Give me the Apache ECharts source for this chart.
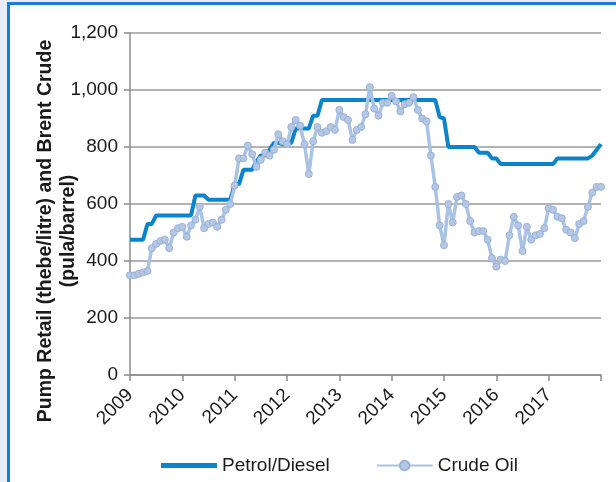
<!DOCTYPE html>
<html>
<head>
<meta charset="utf-8">
<script src="https://cdn.jsdelivr.net/npm/echarts@6/dist/echarts.min.js"></script>
<style>
html,body{margin:0;padding:0;background:#e7ecf6;}
#frame{position:absolute;left:7px;top:2px;width:609px;height:480px;background:#fff;border-left:3px solid #1b7fd1;border-top:3px solid #1b7fd1;}
#chart{position:absolute;left:0;top:0;width:616px;height:482px;}
</style>
</head>
<body>
<div id="frame"></div>
<div id="chart"></div>
<script>
// Monthly series, Jan 2009 .. Jan 2018 (month index 0..108)
var yearLabels = ['2009','2010','2011','2012','2013','2014','2015','2016','2017'];
var yTicks = [0, 200, 400, 600, 800, 1000, 1200];

var petrolDiesel = [
  475,475,475,475,530,530,560,560,560,560,560,560,560,560,560,630,630,630,
  615,615,615,615,615,615,
  670,670,720,720,720,750,770,770,790,815,815,810,810,815,865,865,865,865,910,910,
  965,965,965,965,965,965,965,965,965,965,965,965,965,965,965,965,965,965,965,965,965,965,965,965,965,965,965,
  905,900,
  800,800,800,800,800,800,800,
  780,780,780,
  760,760,
  740,740,740,740,740,740,740,740,740,740,740,740,740,
  760,760,760,760,760,760,760,760,
  770,790,810
];

var crudeOil = [
  350,350,355,360,365,445,460,470,475,445,500,515,520,485,525,545,590,515,530,535,
  520,545,580,600,665,760,760,805,775,730,755,780,770,790,845,820,810,870,895,875,
  810,705,820,870,850,855,870,860,930,905,895,825,860,870,915,1010,935,910,955,955,
  980,960,925,950,955,975,930,900,890,770,660,525,455,600,535,625,630,600,540,500,
  505,505,475,410,380,405,400,490,555,525,435,520,475,490,495,515,585,580,555,550,
  510,500,480,530,540,590,640,660,660
];

function toPairs(arr){ return arr.map(function(v,i){ return [i, v]; }); }

var chart = echarts.init(document.getElementById('chart'));
chart.setOption({
  animation: false,
  backgroundColor: 'transparent',
  grid: { left: 130, right: 15, top: 33, bottom: 107 },
  xAxis: {
    type: 'value', min: 0, max: 108, interval: 12,
    axisLine: { show: true, lineStyle: { color: '#8c8c8c', width: 1.5 } },
    axisTick: { show: true, length: 6, lineStyle: { color: '#8c8c8c', width: 1.5 } },
    splitLine: { show: false },
    axisLabel: {
      rotate: 45, margin: 17, color: '#1a1a1a', fontSize: 19, fontFamily: 'Liberation Sans',
      formatter: function(v){ var k = Math.round(v/12); return k < yearLabels.length ? yearLabels[k] : ''; }
    }
  },
  yAxis: {
    type: 'value', min: yTicks[0], max: yTicks[yTicks.length-1], interval: 200,
    axisLine: { show: true, lineStyle: { color: '#8c8c8c', width: 1.5 } },
    axisTick: { show: true, length: 6, lineStyle: { color: '#8c8c8c', width: 1.5 } },
    splitLine: { show: true, lineStyle: { color: '#9a9a9a', width: 1.5 } },
    axisLabel: {
      margin: 12, color: '#1a1a1a', fontSize: 19, fontFamily: 'Liberation Sans',
      formatter: function(v){ return v.toLocaleString('en-US'); }
    }
  },
  legend: {
    left: 156, top: 451, itemWidth: 56, itemHeight: 12, itemGap: 46,
    textStyle: { color: '#1a1a1a', fontSize: 19, fontFamily: 'Liberation Sans' },
    data: [
      { name: 'Petrol/Diesel', icon: 'path://M0,0 L56,0 L56,5 L0,5 Z', itemStyle: { color: '#0a84cc' } },
      { name: 'Crude Oil' }
    ]
  },
  graphic: [{
    type: 'text', x: 57, y: 231, rotation: Math.PI/2,
    style: {
      text: 'Pump Retail (thebe/litre) and Brent Crude\n(pula/barrel)',
      fill: '#1a1a1a', fontSize: 19.5, fontWeight: 'bold', fontFamily: 'Liberation Sans',
      align: 'center', verticalAlign: 'middle', lineHeight: 23
    }
  }],
  series: [
    {
      name: 'Petrol/Diesel', type: 'line', data: toPairs(petrolDiesel),
      symbol: 'none', lineStyle: { color: '#0a84cc', width: 4 }, itemStyle: { color: '#0a84cc' }
    },
    {
      name: 'Crude Oil', type: 'line', data: toPairs(crudeOil),
      symbol: 'circle', symbolSize: 7, showAllSymbol: true,
      lineStyle: { color: '#a9c3e4', width: 3.5 },
      itemStyle: { color: '#b4c8e6', borderColor: '#9ab1d6', borderWidth: 1 }
    }
  ]
});
</script>
</body>
</html>
